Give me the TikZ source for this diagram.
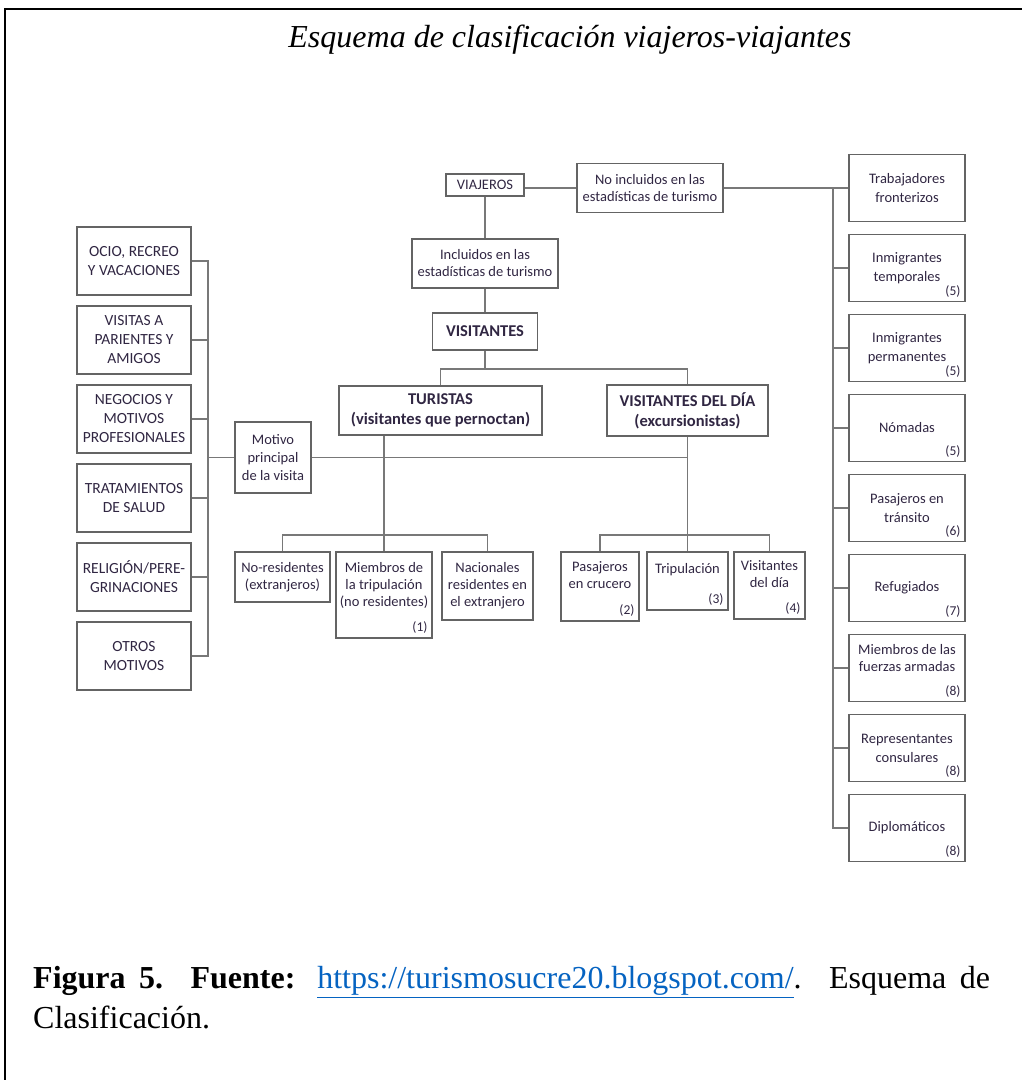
\documentclass[tikz,border=0pt]{standalone}
\usepackage{fontspec}
\setmainfont{Liberation Serif}
\newfontfamily\diag{Carlito}
\usepackage{xcolor}
\definecolor{tinta}{RGB}{48,38,66}
\definecolor{linea}{RGB}{120,120,120}
\definecolor{borde}{RGB}{100,100,100}
\definecolor{enlace}{RGB}{5,99,193}

\begin{document}
\begin{tikzpicture}[x=1pt,y=-1pt,font=\diag\fontsize{14.5}{17}\selectfont,text=tinta,
	caja/.style={draw=borde,line width=1.4pt,align=center,inner sep=2pt},
	izq/.style={caja,minimum width=114pt,minimum height=68pt,font=\diag\fontsize{15.5}{19}\selectfont},
	der/.style={caja,minimum width=116pt,minimum height=67pt,font=\diag\fontsize{14.5}{19}\selectfont},
	negrita/.style={caja,font=\diag\bfseries\fontsize{16.5}{20}\selectfont},
	nro/.style={label={[anchor=south east,inner sep=5pt,font=\diag\fontsize{13.5}{13.5}\selectfont]south east:(#1)}},
	rama/.style={draw=linea,line width=1.4pt}]
			\useasboundingbox (0,0) rectangle (1022,1080);
			\draw[line width=2pt] (1022,9) -- (5,9) -- (5,1080);
			\node[text=black,font=\itshape\fontsize{32}{38}\selectfont] (titulo) at (570,40) {Esquema de clasificación viajeros-viajantes};
			\node[caja,minimum width=78pt,minimum height=22pt] (viaj) at (485,185) {VIAJEROS};
			\node[caja,minimum width=146pt,minimum height=49pt] (noinc) at (650,188) {No incluidos en las\\estadísticas de turismo};
			\node[caja,minimum width=146pt,minimum height=49pt] (inc) at (485,263.5) {Incluidos en las\\estadísticas de turismo};
			\node[negrita,minimum width=105pt,minimum height=37pt] (vis) at (485,331.5) {VISITANTES};
			\node[negrita,minimum width=203pt,minimum height=49pt] (tur) at (440.5,410.5) {TURISTAS\\(visitantes que pernoctan)};
			\node[negrita,minimum width=161pt,minimum height=51pt] (dia) at (687.5,410.5) {VISITANTES DEL DÍA\\(excursionistas)};
			\node[caja,minimum width=76pt,minimum height=71pt,font=\diag\fontsize{14.5}{18}\selectfont] (motivo) at (273,457.5) {Motivo\\principal\\de la visita};
			\node[caja,minimum width=95pt,minimum height=50pt] (nores) at (282.5,577) {No-residentes\\(extranjeros)};
			\node[caja,minimum width=96pt,minimum height=86pt,nro=1] (miem) at (384,595) {Miembros de\\la tripulación\\(no residentes)\\[4pt]};
			\node[caja,minimum width=91pt,minimum height=68pt] (nac) at (487.5,586) {Nacionales\\residentes en\\el extranjero};
			\node[caja,minimum width=78pt,minimum height=69pt,nro=2] (pasc) at (600,586.5) {Pasajeros\\en crucero\\[6pt]};
			\node[caja,minimum width=81pt,minimum height=58pt,nro=3] (trip) at (687.5,581) {Tripulación\\[8pt]};
			\node[caja,minimum width=71pt,minimum height=67pt,nro=4] (visd) at (769.5,585.5) {Visitantes\\del día\\[6pt]};
			\node[izq] (ocio) at (134,261) {OCIO, RECREO\\Y VACACIONES};
			\node[izq] (parientes) at (134,340) {VISITAS A\\PARIENTES Y\\AMIGOS};
			\node[izq] (negocios) at (134,419) {NEGOCIOS Y\\MOTIVOS\\PROFESIONALES};
			\node[izq] (salud) at (134,498) {TRATAMIENTOS\\DE SALUD};
			\node[izq] (religion) at (134,577) {RELIGIÓN/PERE-\\GRINACIONES};
			\node[izq] (otros) at (134,656) {OTROS\\MOTIVOS};
			\node[der] (trab) at (907,188) {Trabajadores\\fronterizos};
			\node[der,nro=5] (inmt) at (907,268) {Inmigrantes\\temporales};
			\node[der,nro=5] (inmp) at (907,348) {Inmigrantes\\permanentes};
			\node[der,nro=5] (nom) at (907,428) {Nómadas};
			\node[der,nro=6] (trans) at (907,508) {Pasajeros en\\tránsito};
			\node[der,nro=7] (ref) at (907,588) {Refugiados};
			\node[der,nro=8,font=\diag\fontsize{14.5}{17}\selectfont] (fuer) at (907,668) {Miembros de las\\fuerzas armadas\\[4pt]};
			\node[der,nro=8] (cons) at (907,748) {Representantes\\consulares};
			\node[der,nro=8] (dipl) at (907,828) {Diplomáticos};
			\node[anchor=north west,text width=957pt,align=justify,inner sep=0pt,text=black,font=\fontsize{32}{40}\selectfont] (pie) at (33,966) {\textbf{Figura 5. Fuente:} \textcolor{enlace}{\underline{https://turismosucre20.blogspot.com/}}. Esquema de\linebreak Clasificación.};
			\coordinate (barV) at (485,369);
			\coordinate (barT) at (384,535);
			\coordinate (barD) at (687.5,535);
			\coordinate (troncoI) at (208,457.5);
			\coordinate (troncoD) at (833,188);
			\draw[rama] (noinc.west) -- (noinc.west -| viaj.east);
			\draw[rama] (noinc) -- (trab);
			\draw[rama] (viaj) -- (inc);
			\draw[rama] (inc) -- (vis);
			\draw[rama] (vis) -- (barV);
			\draw[rama] (tur.north) |- (barV) -| (dia.north);
			\draw[rama] (miem.north) -- (miem.north |- tur.south);
			\draw[rama] (nores.north) |- (barT) -| (nac.north);
			\draw[rama] (dia.south) -- (trip.north);
			\draw[rama] (pasc.north) |- (barD) -| (visd.north);
			\draw[rama] (motivo.east) -- (motivo.east -| dia.south);
			\draw[rama] (motivo.west) -- (troncoI);
			\foreach \n in {ocio,parientes,negocios,salud,religion,otros}
				\draw[rama] (\n.east) -| (troncoI);
			\foreach \n in {inmt,inmp,nom,trans,ref,fuer,cons,dipl}
				\draw[rama] (troncoD) |- (\n.west);
		\end{tikzpicture}
\end{document}
